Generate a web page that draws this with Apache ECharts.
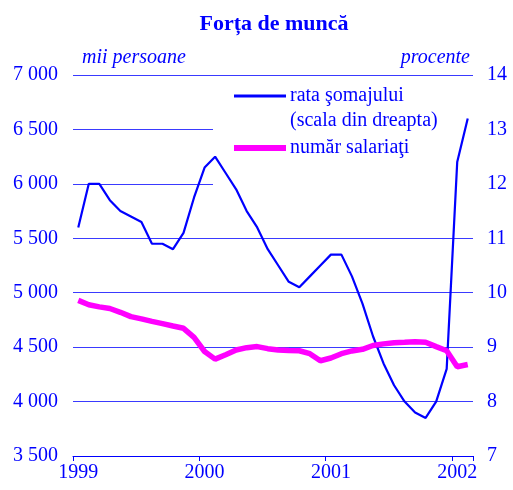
<!DOCTYPE html>
<html>
<head>
<meta charset="utf-8">
<script src="https://cdn.jsdelivr.net/npm/echarts@6/dist/echarts.min.js"></script>
<style>
html,body{margin:0;padding:0;background:#fff;}
#c{width:513px;height:490px;}
</style>
</head>
<body>
<div id="c"></div>
<script>
// Monthly categories Jan 1999 – Feb 2002
const months = [];
const years = [1999, 2000, 2001, 2002];
years.forEach(y => { for (let m = 1; m <= 12; m++) { if (y === 2002 && m > 2) break; months.push(y + '-' + (m < 10 ? '0' + m : m)); } });

// Rata şomajului (%), right axis
const unemploymentRate = [11.2, 12.0, 12.0, 11.7, 11.5, 11.4, 11.3, 10.9, 10.9, 10.8, 11.1, 11.75,
  12.3, 12.5, 12.2, 11.9, 11.5, 11.2, 10.8, 10.5, 10.2, 10.1, 10.3, 10.5,
  10.7, 10.7, 10.3, 9.8, 9.2, 8.7, 8.3, 8.0, 7.8, 7.7, 8.0, 8.6,
  12.4, 13.2];

// Număr salariaţi (mii persoane), left axis
const employees = [4930, 4890, 4870, 4855, 4820, 4780, 4760, 4737, 4716, 4694, 4673, 4590,
  4460, 4390, 4430, 4474, 4495, 4505, 4486, 4474, 4470, 4467, 4440, 4375,
  4400, 4440, 4465, 4480, 4515, 4530, 4541, 4545, 4550, 4545, 4505, 4467,
  4320, 4340];

const yearLabels = ['1999', '2000', '2001', '2002'];
const leftTicks = { min: 3500, max: 7000, step: 500 };
const rightTicks = { min: 7, max: 14, step: 1 };

const seriesNames = ['rata şomajului', 'număr salariaţi'];
const legendExtra = '(scala din dreapta)';

const BLUE = '#0000ff';
const MAGENTA = '#ff00ff';
const GRID = '#3a3aff';
const FONT = '"Liberation Serif", "Times New Roman", serif';
const FS = 20;

const chart = echarts.init(document.getElementById('c'), null, { renderer: 'canvas' });

function fmtThousands(v) {
  const s = String(v);
  return s.length > 3 ? s.slice(0, s.length - 3) + ' ' + s.slice(s.length - 3) : s;
}

const option = {
  backgroundColor: '#fff',
  animation: false,
  title: {
    text: 'Forța de muncă',
    left: 269, top: 8, textAlign: 'center',
    textStyle: { color: BLUE, fontFamily: FONT, fontWeight: 'bold', fontSize: 22 }
  },
  grid: { left: 73, right: 40, top: 75, bottom: 34, containLabel: false },
  legend: {
    orient: 'vertical',
    left: 231, top: 85, padding: 0,
    itemWidth: 52, itemHeight: 12,
    itemGap: 30,
    itemStyle: { color: 'rgba(0,0,0,0)', borderWidth: 0 },
    textStyle: { color: BLUE, fontFamily: FONT, fontSize: FS, lineHeight: 22, padding: [0, 0, 0, -1] },
    data: [
      { name: seriesNames[0], lineStyle: { width: 3, color: BLUE } },
      { name: seriesNames[1], lineStyle: { width: 6, color: MAGENTA } }
    ]
  },
  xAxis: {
    type: 'category',
    data: months,
    boundaryGap: true,
    axisLine: { show: true, lineStyle: { color: BLUE, width: 1 } },
    axisTick: { show: true, interval: 11, length: 5, lineStyle: { color: BLUE } },
    axisLabel: {
      interval: 11, color: BLUE, fontFamily: FONT, fontSize: FS, margin: 7,
      formatter: (v) => { const y = v.slice(0, 4); return yearLabels.indexOf(y) >= 0 ? y : ''; }
    },
    splitLine: { show: false }
  },
  yAxis: [
    {
      type: 'value', position: 'left',
      min: leftTicks.min, max: leftTicks.max, interval: leftTicks.step,
      name: 'mii persoane', nameLocation: 'end', nameGap: 7,
      nameTextStyle: { color: BLUE, fontFamily: FONT, fontStyle: 'italic', fontSize: FS, align: 'left', padding: [0, 0, 0, 9] },
      axisLine: { show: false }, axisTick: { show: false },
      axisLabel: { color: BLUE, fontFamily: FONT, fontSize: FS, margin: 15, formatter: fmtThousands, showMinLabel: true, showMaxLabel: true },
      splitLine: { show: true, lineStyle: { color: GRID, width: 1 } }
    },
    {
      type: 'value', position: 'right',
      min: rightTicks.min, max: rightTicks.max, interval: rightTicks.step,
      name: 'procente', nameLocation: 'end', nameGap: 7,
      nameTextStyle: { color: BLUE, fontFamily: FONT, fontStyle: 'italic', fontSize: FS, align: 'right', padding: [0, 3, 0, 0] },
      axisLine: { show: false }, axisTick: { show: false },
      axisLabel: { color: BLUE, fontFamily: FONT, fontSize: FS, margin: 14 },
      splitLine: { show: false }
    }
  ],
  graphic: [
    { type: 'rect', z: 1, silent: true, shape: { x: 213, y: 100, width: 262, height: 92 }, style: { fill: '#fff' } },
    { type: 'text', z: 5, left: 290, top: 111, style: { text: legendExtra, fill: BLUE, font: FS + 'px ' + FONT } }
  ],
  series: [
    {
      name: seriesNames[0], type: 'line', yAxisIndex: 1, data: unemploymentRate,
      symbol: 'none', lineStyle: { color: BLUE, width: 2.2 }, itemStyle: { color: BLUE }, z: 3
    },
    {
      name: seriesNames[1], type: 'line', yAxisIndex: 0, data: employees,
      symbol: 'none', lineStyle: { color: MAGENTA, width: 5.5 }, itemStyle: { color: MAGENTA }, z: 4
    }
  ]
};
chart.setOption(option);
</script>
</body>
</html>
